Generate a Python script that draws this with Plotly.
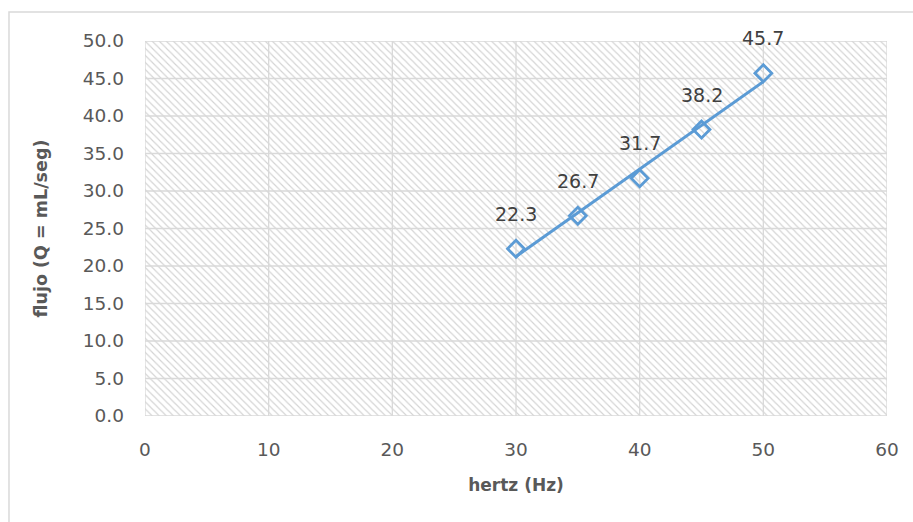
import numpy as np
import plotly.graph_objects as go

# Measured flow versus pump frequency
hertz = [30, 35, 40, 45, 50]
flujo = [22.3, 26.7, 31.7, 38.2, 45.7]
x_ticks = [0, 10, 20, 30, 40, 50, 60]
y_ticks = [0, 5, 10, 15, 20, 25, 30, 35, 40, 45, 50]

X_RANGE = [0, 60]
Y_RANGE = [0, 50]
BLUE = "#5B9BD5"
GRID = "#D9D9D9"
FONT = "DejaVu Sans"

# Linear trendline fitted to the measurements
slope, intercept = np.polyfit(hertz, flujo, 1)
trend_x = [min(hertz), max(hertz)]
trend_y = [slope * v + intercept for v in trend_x]

fig = go.Figure()

# Hatched plot-area background
fig.add_trace(go.Scatter(
    x=[X_RANGE[0], X_RANGE[1], X_RANGE[1], X_RANGE[0], X_RANGE[0]],
    y=[Y_RANGE[0], Y_RANGE[0], Y_RANGE[1], Y_RANGE[1], Y_RANGE[0]],
    mode="none", fill="toself", fillcolor="rgba(0,0,0,0)",
    fillpattern=dict(shape="\\", size=5, solidity=0.22,
                     fgcolor="#D3D3D3", bgcolor="white", fillmode="replace"),
    hoverinfo="skip", showlegend=False,
))

# Gridlines drawn over the hatching
grid_x, grid_y = [], []
for t in x_ticks:
    grid_x += [t, t, None]
    grid_y += [Y_RANGE[0], Y_RANGE[1], None]
for t in y_ticks:
    grid_x += [X_RANGE[0], X_RANGE[1], None]
    grid_y += [t, t, None]
fig.add_trace(go.Scatter(
    x=grid_x, y=grid_y, mode="lines",
    line=dict(color=GRID, width=1.3),
    hoverinfo="skip", showlegend=False,
))

fig.add_trace(go.Scatter(
    x=trend_x, y=trend_y, mode="lines",
    line=dict(color=BLUE, width=3), showlegend=False,
))

fig.add_trace(go.Scatter(
    x=hertz, y=flujo, mode="markers",
    marker=dict(symbol="diamond-open", size=13, color=BLUE,
                line=dict(color=BLUE, width=2.75)),
    showlegend=False,
))

for xv, yv in zip(hertz, flujo):
    fig.add_annotation(x=xv, y=yv, text=f"{yv:.1f}", showarrow=False,
                       yshift=35, font=dict(family=FONT, size=19, color="#404040"))

axis_common = dict(
    showgrid=False,
    showline=False,
    zeroline=False, ticks="",
    tickfont=dict(family=FONT, size=18.5, color="#595959"),
)

fig.update_xaxes(range=X_RANGE, tickvals=x_ticks, ticklabelstandoff=20,
                 title=dict(text="<b>hertz (Hz)</b>", standoff=20,
                            font=dict(family=FONT, size=17, color="#595959")),
                 **axis_common)
fig.update_yaxes(range=Y_RANGE, tickvals=y_ticks, tickformat=".1f", ticklabelstandoff=20,
                 title=dict(text="<b>flujo (Q = mL/seg)</b>", standoff=30,
                            font=dict(family=FONT, size=17.5, color="#595959")),
                 **axis_common)

# Chart-area border
fig.add_shape(type="rect", xref="paper", yref="paper",
              x0=-0.1833, x1=1.06, y0=-0.33, y1=1.0773,
              line=dict(color="#D9D9D9", width=1.5), layer="below")

fig.update_layout(
    width=913, height=522,
    margin=dict(l=145, r=26, t=41, b=106),
    paper_bgcolor="white", plot_bgcolor="white",
    font=dict(family=FONT),
)

fig.write_html("out.html")
